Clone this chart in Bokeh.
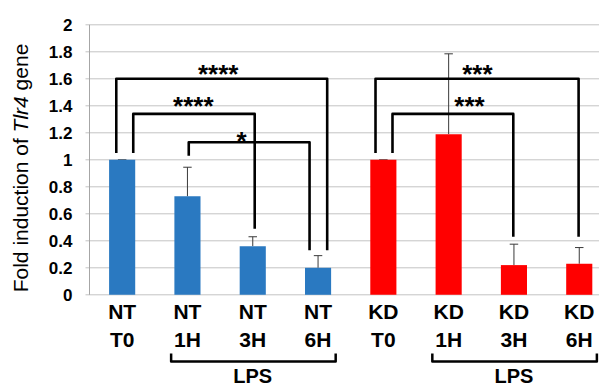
from bokeh.plotting import figure
from bokeh.models import Range1d, ColumnDataSource
from bokeh.core.properties import value
from bokeh.embed import file_html
from bokeh.resources import INLINE

# ---- data ----
groups = ["NT", "NT", "NT", "NT", "KD", "KD", "KD", "KD"]
times = ["T0", "1H", "3H", "6H", "T0", "1H", "3H", "6H"]
fold = [1.0, 0.73, 0.36, 0.20, 1.0, 1.19, 0.22, 0.23]
err = [0.0, 0.215, 0.07, 0.09, 0.0, 0.595, 0.155, 0.12]
bar_colors = ["#2a79c1"] * 4 + ["#ff0000"] * 4
yticks = [0, 0.2, 0.4, 0.6, 0.8, 1.0, 1.2, 1.4, 1.6, 1.8, 2.0]
ytick_labels = ["0", "0.2", "0.4", "0.6", "0.8", "1", "1.2", "1.4", "1.6", "1.8", "2"]
lps_groups = [(1, 3), (5, 7)]
# significance brackets: (left idx, right idx, stars)
sig = [(0, 3, "****"), (0, 2, "****"), (1, 3, "*"), (4, 7, "***"), (4, 6, "***")]

FONT = "Liberation Sans"
PX_X = 65.3   # px per category
PX_Y = 135.0  # px per unit
W, H = 599, 388
AXIS_PX = 89   # canvas x of the value axis
Y0 = 294.3     # canvas y of value 0
GRID = "#c4c4c4"

x = list(range(len(fold)))
labels = [f"{g}\n{t}" for g, t in zip(groups, times)]
xa = -0.5                      # value axis position (data)
xmin = xa - AXIS_PX / PX_X
xmax = xa + (W - AXIS_PX) / PX_X

p = figure(width=W, height=H, output_backend="svg", toolbar_location=None,
           x_range=Range1d(xmin, xmax),
           y_range=Range1d(-(H - Y0) / PX_Y, Y0 / PX_Y),
           min_border=0)
p.outline_line_color = None
p.xaxis.visible = False
p.yaxis.visible = False
p.grid.visible = False

# value axis: gridlines (with outward ticks), axis line, tick labels
tick_len = 4 / PX_X
p.segment(x0=[xa - tick_len] * len(yticks), y0=yticks, x1=[xmax] * len(yticks), y1=yticks,
          line_color=GRID, line_width=1)
p.segment(x0=[xa], y0=[yticks[0]], x1=[xa], y1=[yticks[-1]], line_color="#a6a6a6", line_width=1)
p.text(x=[xa - 17 / PX_X] * len(yticks), y=yticks, text=ytick_labels, text_font=value(FONT),
       text_font_style="bold", text_font_size="17px", text_align="right",
       text_baseline="middle", text_color="black")

# bars and error bars
src = ColumnDataSource(dict(x=x, top=fold, color=bar_colors,
                            hi=[v + e for v, e in zip(fold, err)],
                            cl=[i - 0.065 for i in x], cr=[i + 0.065 for i in x]))
p.segment(x0="x", y0="top", x1="x", y1="hi", source=src, line_color="#3a3a3a", line_width=1)
p.segment(x0="cl", y0="hi", x1="cr", y1="hi", source=src, line_color="#3a3a3a", line_width=1)
p.vbar(x="x", top="top", width=0.4, bottom=0, source=src, fill_color="color", line_color=None)

# category labels
p.text(x=x, y=[-0.035] * len(x), text=labels, text_font=value(FONT), text_font_style="bold",
       text_font_size="21px", text_align="center", text_baseline="top", text_line_height=1.25,
       text_color="black")

# LPS brackets
for a, b in lps_groups:
    xl, xr = a - 0.25, b + 0.27
    p.line(x=[xl, xl, xr, xr], y=[-0.435, -0.494, -0.494, -0.435], line_color="black",
           line_width=2.5, line_join="round")
    p.text(x=[(a + b) / 2], y=[-0.605], text=["LPS"], text_font=value(FONT), text_font_style="bold",
           text_font_size="20px", text_align="center", text_baseline="middle",
           text_color="black")

# significance brackets geometry
leg_left = {(0, 3): (-0.09, 1.05), (0, 2): (0.17, 1.05), (1, 3): (0.02, 1.03),
            (4, 7): (-0.12, 1.05), (4, 6): (0.14, 1.05)}
leg_right = {(0, 3): (0.14, 0.33), (0, 2): (0.03, 0.49), (1, 3): (-0.13, 0.33),
             (4, 7): (-0.01, 0.43), (4, 6): (-0.01, 0.43)}
tops = {(0, 3): 1.6, (0, 2): 1.34, (1, 3): 1.13, (4, 7): 1.6, (4, 6): 1.34}
star_pos = {(0, 3): (1.47, 1.632), (0, 2): (1.09, 1.402), (1, 3): (1.83, 1.136),
            (4, 7): (5.44, 1.639), (4, 6): (5.32, 1.402)}
for a, b, s in sig:
    dl, yl = leg_left[(a, b)]
    dr, yr = leg_right[(a, b)]
    t = tops[(a, b)]
    p.line(x=[a + dl, a + dl, b + dr, b + dr], y=[yl, t, t, yr], line_color="black",
           line_width=2.6, line_join="round")
    sx, sy = star_pos[(a, b)]
    p.text(x=[sx], y=[sy], text=[s], text_font=value(FONT), text_font_style="bold",
           text_font_size="26px", text_align="center", text_baseline="alphabetic",
           text_color="black")

# y axis title with italic gene name (rotated, stacked pieces); widths in em (Arial metrics)
TITLE_PX = 21
space_em = 0.278
pieces = [("Fold induction of", "normal", 7.337), ("Tlr4", "italic", 1.722), ("gene", "normal", 2.224)]
total = (sum(w for _, _, w in pieces) + space_em * (len(pieces) - 1)) * TITLE_PX
title_x = xa - (AXIS_PX - 20) / PX_X
ystart = (Y0 - 167.5) / PX_Y - total / 2 / PX_Y
for txt, style, w in pieces:
    p.text(x=[title_x], y=[ystart], text=[txt], angle=1.5707963, text_font=value(FONT),
           text_font_style=style, text_font_size=f"{TITLE_PX}px", text_align="left",
           text_baseline="middle", text_color="black")
    ystart += (w + space_em) * TITLE_PX / PX_Y

open("out.html", "w").write(file_html(p, INLINE))
